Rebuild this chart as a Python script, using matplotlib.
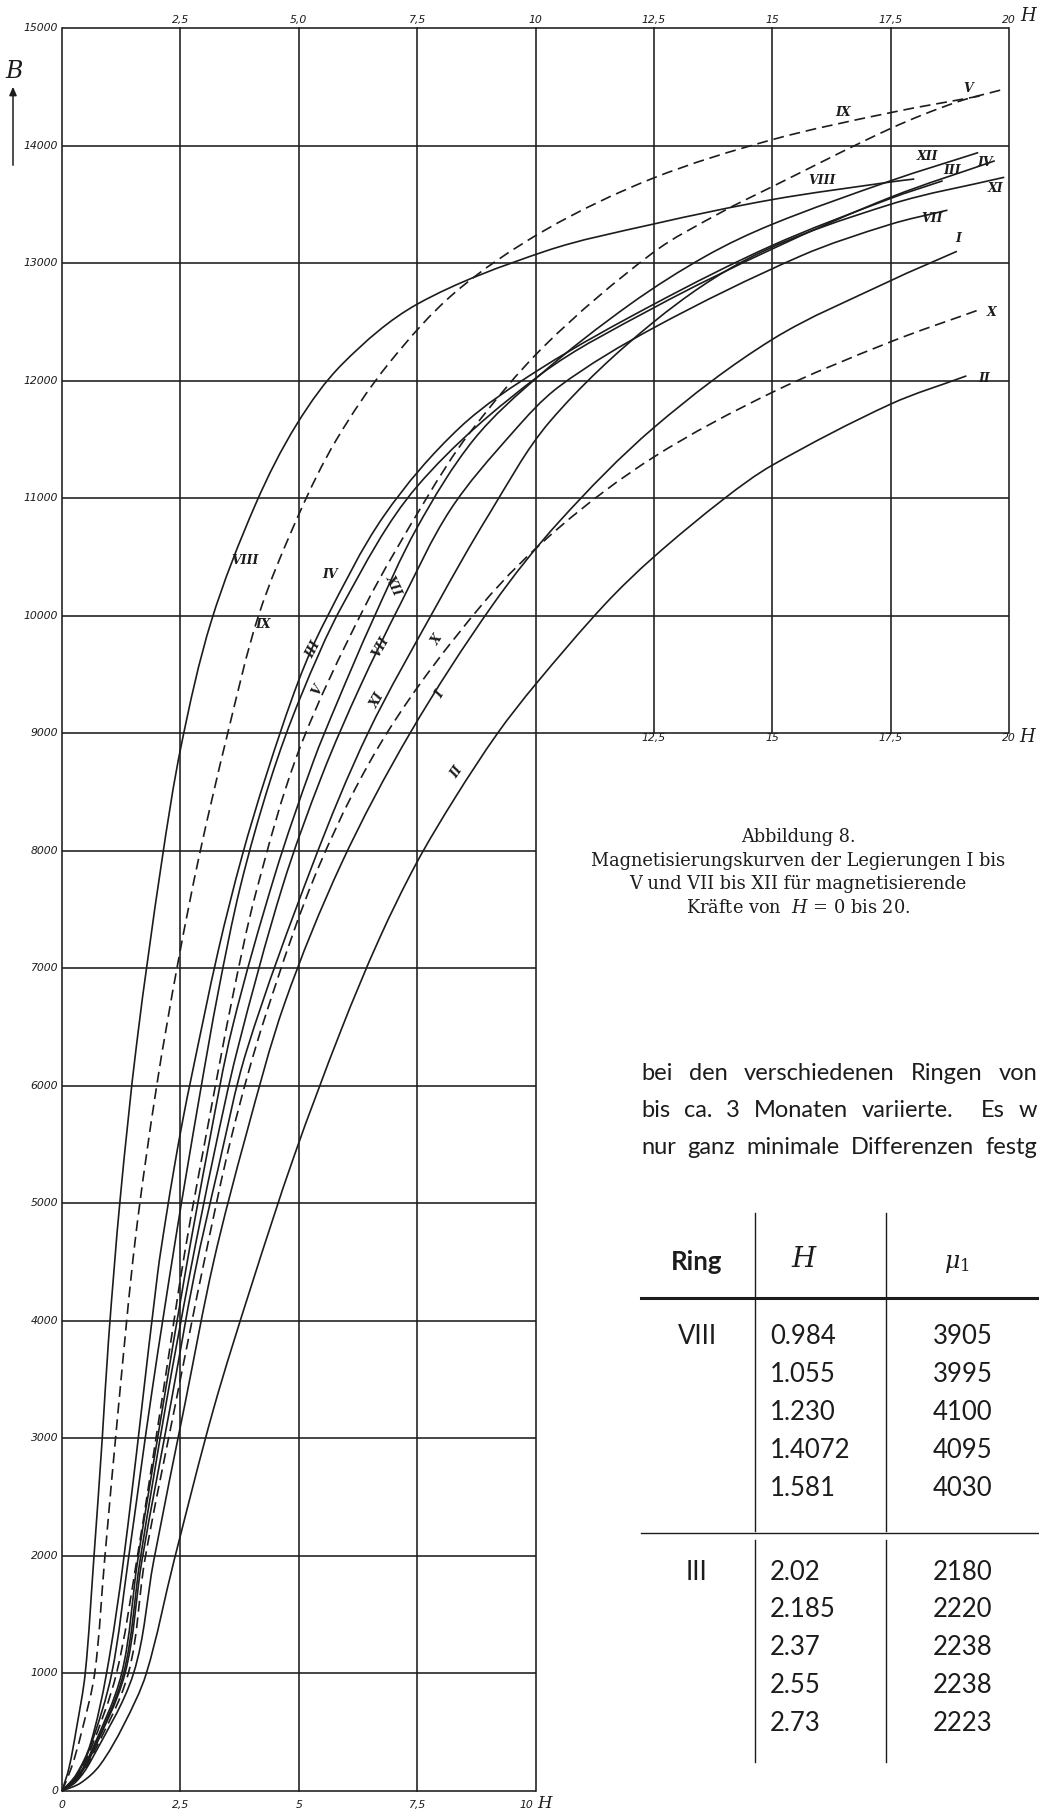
import matplotlib
matplotlib.use("Agg")
import matplotlib.pyplot as plt
from matplotlib.path import Path
from matplotlib.patches import PathPatch
import numpy as np

plt.rcParams["mathtext.fontset"] = "dejavuserif"
W, HGT = 1039, 1813

# ---------------- data ----------------
curve_names = ["VIII", "IX", "III", "IV", "V", "XII", "VII", "XI", "X", "I", "II"]
curve_dashed = {"IX", "V", "X"}

H_VIII = [0, 0.15, 0.3, 0.49, 0.67, 0.85, 0.984, 1.23, 1.581, 2.1, 2.52, 3.15, 4.09, 4.96, 5.93, 7.5, 10.2, 12.47, 15.0, 17.5, 18.0]
B_VIII = [0, 200, 520, 1000, 1966, 3000, 3843, 5043, 6371, 7890, 8900, 9950, 10950, 11630, 12145, 12650, 13100, 13330, 13540, 13690, 13715]

H_IX = [0, 0.2, 0.4, 0.69, 0.9, 1.2, 1.55, 2.0, 2.45, 2.9, 3.5, 4.15, 5.0, 5.8, 6.9, 8.3, 10.2, 12.47, 15.0, 17.5, 19.5]
B_IX = [0, 200, 480, 1000, 1966, 3300, 4700, 6000, 7050, 7960, 9000, 10000, 10860, 11500, 12145, 12750, 13280, 13720, 14050, 14280, 14430]

H_III = [0, 0.3, 0.6, 0.94, 1.3, 2.02, 2.185, 2.37, 2.55, 2.73, 3.3, 3.8, 4.32, 5.0, 5.55, 6.8, 8.4, 10.1, 12.5, 15.0, 17.5, 18.6]
B_III = [0, 140, 400, 1000, 1966, 4404, 4851, 5304, 5707, 6069, 7150, 7950, 8650, 9450, 9950, 10850, 11600, 12100, 12650, 13150, 13550, 13700]

H_IV = [0, 0.3, 0.6, 1.05, 1.4, 1.9, 2.4, 2.9, 3.3, 3.77, 4.4, 5.03, 5.93, 7.5, 10.1, 12.5, 15.0, 17.5, 19.7]
B_IV = [0, 130, 380, 1000, 1966, 3400, 4700, 5900, 6800, 7700, 8600, 9300, 10094, 11100, 12050, 12620, 13120, 13560, 13870]

H_V = [0, 0.3, 0.6, 1.15, 1.58, 2.1, 2.6, 3.1, 3.6, 4.1, 5.0, 6.36, 7.7, 8.6, 10.2, 12.47, 13.9, 15.0, 17.5, 18.9, 19.9]
B_V = [0, 120, 350, 1000, 1966, 3300, 4600, 5700, 6750, 7650, 8850, 10050, 11000, 11550, 12300, 13085, 13427, 13650, 14145, 14370, 14480]

H_XII = [0, 0.3, 0.6, 1.26, 1.6, 2.1, 2.6, 3.1, 3.6, 4.5, 5.3, 5.8, 6.55, 7.5, 8.7, 10.1, 12.0, 13.6, 15.0, 17.5, 19.35]
B_XII = [0, 110, 320, 1000, 1966, 3200, 4400, 5500, 6500, 7800, 8750, 9250, 9950, 10750, 11500, 12050, 12650, 13060, 13330, 13700, 13940]

H_VII = [0, 0.3, 0.6, 1.3, 1.65, 2.2, 2.7, 3.2, 3.7, 4.66, 5.5, 6.3, 7.14, 8.2, 9.5, 10.5, 12.5, 15.6, 17.5, 18.7]
B_VII = [0, 100, 300, 1000, 1966, 3300, 4400, 5400, 6300, 7700, 8650, 9400, 10094, 10900, 11550, 11950, 12450, 13060, 13330, 13450]

H_XI = [0, 0.3, 0.6, 1.33, 1.69, 2.3, 2.8, 3.3, 3.9, 5.3, 6.46, 7.92, 9.0, 10.3, 12.5, 14.6, 17.5, 19.9]
B_XI = [0, 100, 290, 1000, 1966, 3300, 4400, 5300, 6300, 7890, 9000, 10094, 10850, 11650, 12500, 13060, 13500, 13730]

H_X = [0, 0.3, 0.6, 1.4, 1.75, 2.4, 3.0, 3.6, 4.3, 5.45, 6.86, 8.87, 10.5, 12.5, 15.0, 17.5, 19.35]
B_X = [0, 90, 270, 1000, 1966, 3300, 4500, 5600, 6600, 7890, 9000, 10094, 10750, 11350, 11900, 12330, 12600]

H_I = [0, 0.3, 0.6, 1.51, 1.94, 2.6, 3.2, 3.9, 4.7, 5.9, 7.35, 9.1, 10.5, 12.5, 15.0, 17.5, 18.9]
B_I = [0, 80, 250, 1000, 1966, 3300, 4500, 5600, 6700, 7890, 9000, 10094, 10800, 11600, 12350, 12850, 13100]

H_II = [0, 0.4, 0.8, 1.3, 1.78, 2.37, 3.2, 4.0, 4.9, 5.9, 6.7, 7.48, 8.3, 9.2, 10.0, 11.46, 12.5, 14.0, 15.0, 17.5, 19.1]
B_II = [0, 70, 220, 560, 1000, 1966, 3250, 4300, 5400, 6480, 7250, 7890, 8450, 9000, 9415, 10094, 10500, 11000, 11280, 11800, 12040]

curves = {
    "VIII": (H_VIII, B_VIII), "IX": (H_IX, B_IX), "III": (H_III, B_III),
    "IV": (H_IV, B_IV), "V": (H_V, B_V), "XII": (H_XII, B_XII),
    "VII": (H_VII, B_VII), "XI": (H_XI, B_XI), "X": (H_X, B_X),
    "I": (H_I, B_I), "II": (H_II, B_II),
}

b_ticks = list(range(0, 15001, 1000))
top_ticks = ["2,5", "5,0", "7,5", "10", "12,5", "15", "17,5", "20"]
top_vals = [2.5, 5, 7.5, 10, 12.5, 15, 17.5, 20]
bottom_ticks = ["0", "2,5", "5", "7,5", "10"]
bottom_vals = [0, 2.5, 5, 7.5, 9.8]
mid_ticks = ["12,5", "15", "17,5", "20"]
mid_vals = [12.5, 15, 17.5, 20]

table_rings = ["VIII", "III"]
table_H = [["0.984", "1.055", "1.230", "1.4072", "1.581"],
           ["2.02", "2.185", "2.37", "2.55", "2.73"]]
table_mu = [["3905", "3995", "4100", "4095", "4030"],
            ["2180", "2220", "2238", "2238", "2223"]]

caption = ["Abbildung 8.",
           "Magnetisierungskurven der Legierungen I bis",
           "V und VII bis XII für magnetisierende",
           "Kräfte von  $H$ = 0 bis 20."]
paragraph = [
    ["bei", "den", "verschiedenen", "Ringen", "von"],
    ["bis", "ca.", "3", "Monaten", "variierte.", "Es", "w"],
    ["nur", "ganz", "minimale", "Differenzen", "festg"],
]
paragraph_gap_weights = [
    [1, 1, 1, 1],
    [1, 1, 1, 1, 2, 1],
    [1, 1, 1, 1],
]

# ---------------- figure ----------------
INK = "#1c1c1c"
fig = plt.figure(figsize=(W / 100, HGT / 100), dpi=100)
fig.patch.set_facecolor("white")

x0, x20, y0, y15 = 62, 1009, 1791, 28
ax = fig.add_axes([x0 / W, 1 - y0 / HGT, (x20 - x0) / W, (y0 - y15) / HGT])
ax.set_xlim(0, 20)
ax.set_ylim(0, 15000)
ax.axis("off")


def fx(px):
    return px / W


def fy(py):
    return 1 - py / HGT


glw = 1.15
for b in b_ticks:
    xmax = 20 if b >= 9000 else 10
    ax.plot([0, xmax], [b, b], color=INK, lw=glw, solid_capstyle="butt", clip_on=False)
for h in [0, 2.5, 5, 7.5, 10]:
    ax.plot([h, h], [0, 15000], color=INK, lw=glw, clip_on=False)
for h in [12.5, 15, 17.5, 20]:
    ax.plot([h, h], [9000, 15000], color=INK, lw=glw, clip_on=False)

# smooth drawing of each curve through its read points (cubic Bezier path)
SX = (x20 - x0) / 20.0
SY = (y0 - y15) / 15000.0


def smooth_path(hs, bs):
    P = np.column_stack([np.asarray(hs, float) * SX, np.asarray(bs, float) * SY])
    n = len(P)
    tang = np.zeros_like(P)
    for i in range(n):
        if i == 0:
            d = P[1] - P[0]
        elif i == n - 1:
            d = P[-1] - P[-2]
        else:
            d = P[i + 1] - P[i - 1]
        tang[i] = d / np.hypot(*d)
    verts = [P[0]]
    codes = [Path.MOVETO]
    for i in range(n - 1):
        seg = np.hypot(*(P[i + 1] - P[i])) / 3.0
        verts += [P[i] + tang[i] * seg, P[i + 1] - tang[i + 1] * seg, P[i + 1]]
        codes += [Path.CURVE4] * 3
    V = np.array(verts)
    V[:, 0] /= SX
    V[:, 1] /= SY
    return Path(V, codes)


for name in curve_names:
    hs, bs = curves[name]
    ls = (0, (6.5, 3.5)) if name in curve_dashed else "-"
    ax.add_patch(PathPatch(smooth_path(hs, bs), fill=False, edgecolor=INK, lw=1.2,
                           linestyle=ls, clip_on=False))

tick_font = dict(fontsize=7.8, style="italic", color=INK, family="DejaVu Sans")
for b in b_ticks:
    ax.text(-0.08, b, str(b), ha="right", va="center", **tick_font)

top_tr = matplotlib.transforms.blended_transform_factory(ax.transData, fig.transFigure)
for v, t in zip(top_vals, top_ticks):
    ax.text(v, fy(20), t, ha="center", va="center", transform=top_tr, **tick_font)
fig.text(fx(1029), fy(16), "$H$", ha="center", va="center", fontsize=13, color=INK)
for v, t in zip(mid_vals, mid_ticks):
    ax.text(v, fy(738), t, ha="center", va="center", transform=top_tr, **tick_font)
fig.text(fx(1028), fy(737), "$H$", ha="center", va="center", fontsize=13, color=INK)
for v, t in zip(bottom_vals, bottom_ticks):
    ax.text(v, fy(1805), t, ha="center", va="center", transform=top_tr, **tick_font)
fig.text(fx(546), fy(1803), "$H$", ha="center", va="center", fontsize=12, color=INK)

# B axis label with arrow
fig.text(fx(14), fy(71), "$B$", ha="center", va="center", fontsize=17, color=INK)
fig.patches.append(matplotlib.patches.FancyArrowPatch(
    (fx(13), fy(168)), (fx(13), fy(84)), transform=fig.transFigure,
    arrowstyle="-|>,head_length=5,head_width=2.2", color=INK, lw=1.1))

# curve labels
lab = dict(fontsize=9, style="italic", weight="bold", color=INK, family="DejaVu Serif",
           ha="center", va="center")
lower_labels = [("VIII", 245, 560, 0), ("IX", 263, 625, 0), ("IV", 330, 574, 0),
                ("XII", 393, 585, -65), ("III", 313, 650, 62), ("V", 318, 690, 62),
                ("VII", 381, 647, 60), ("XI", 378, 700, 60), ("X", 437, 640, 58),
                ("I", 440, 695, 58), ("II", 457, 772, 55)]
for t, px, py, rot in lower_labels:
    fig.text(fx(px), fy(py), t, rotation=rot, **lab)
upper_labels = [("IX", 843, 113), ("V", 968, 88), ("XII", 927, 157), ("III", 952, 170),
                ("IV", 985, 163), ("XI", 995, 188), ("VIII", 822, 180), ("VII", 932, 218),
                ("I", 958, 238), ("X", 992, 313), ("II", 984, 378)]
for t, px, py in upper_labels:
    fig.text(fx(px), fy(py), t, **lab)

# caption
cap_font = dict(fontsize=12.8, color=INK, family="DejaVu Serif", ha="center", va="center")
for i, line in enumerate(caption):
    fig.text(fx(798), fy(837 + 23.7 * i), line, **cap_font)

# paragraph (justified between left and right margin)
renderer = fig.canvas.get_renderer()
par_font = dict(fontsize=17, color=INK, family="Lato", ha="left", va="center")
L_PAR, R_PAR = 641, 1037
for i, words in enumerate(paragraph):
    yy = fy(1073 + 37.5 * i)
    texts = [fig.text(0, yy, w, **par_font) for w in words]
    widths = [t.get_window_extent(renderer).width for t in texts]
    weights = paragraph_gap_weights[i]
    unit = max(5.0, (R_PAR - L_PAR - sum(widths)) / sum(weights))
    xx = L_PAR
    for k, (t, wdt) in enumerate(zip(texts, widths)):
        t.set_x(fx(xx))
        if k < len(weights):
            xx += wdt + unit * weights[k]

# table
tbl_font = dict(fontsize=18.5, color=INK, family="Lato", va="center")
fig.text(fx(697), fy(1262), "Ring", ha="center", weight="bold", **tbl_font)
fig.text(fx(805), fy(1259), "$H$", ha="center", fontsize=20, color=INK, va="center")
fig.text(fx(957), fy(1263), "$\\mu_1$", ha="center", fontsize=17, color=INK, va="center")
line_kw = dict(color=INK, transform=fig.transFigure)
fig.add_artist(plt.Line2D([fx(641), fx(1039)], [fy(1298), fy(1298)], lw=2.2, **line_kw))
fig.add_artist(plt.Line2D([fx(641), fx(1039)], [fy(1533), fy(1533)], lw=1.0, **line_kw))
for vx in [755, 886]:
    fig.add_artist(plt.Line2D([fx(vx), fx(vx)], [fy(1213), fy(1531)], lw=1.0, **line_kw))
    fig.add_artist(plt.Line2D([fx(vx), fx(vx)], [fy(1540), fy(1762)], lw=1.0, **line_kw))
row_y0 = [1337, 1572]
for blk in range(2):
    fig.text(fx(697), fy(row_y0[blk]), table_rings[blk], ha="center", **tbl_font)
    for r in range(5):
        yy = row_y0[blk] + 37.8 * r
        fig.text(fx(770), fy(yy), table_H[blk][r], ha="left", **tbl_font)
        fig.text(fx(933), fy(yy), table_mu[blk][r], ha="left", **tbl_font)

fig.savefig("out.png", dpi=100, facecolor="white")
